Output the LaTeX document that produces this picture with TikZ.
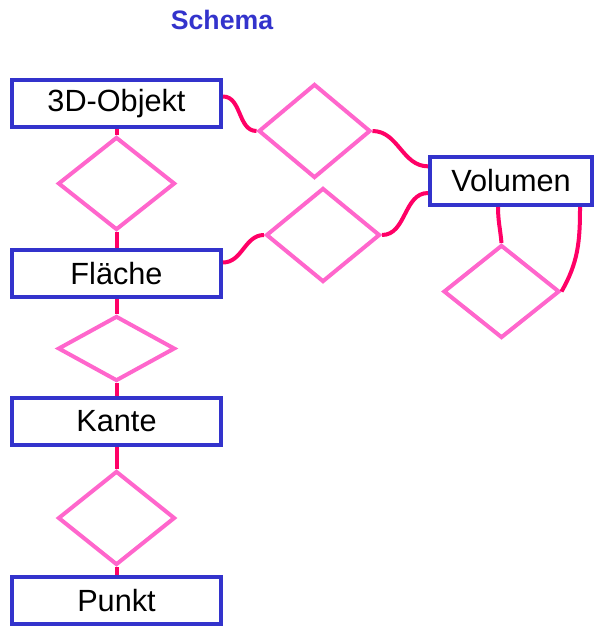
\documentclass[tikz,border=0pt]{standalone}
\usepackage{fontspec}
\setmainfont{Liberation Sans}
\usetikzlibrary{shapes.geometric}
\definecolor{boxblue}{HTML}{3333CC}
\definecolor{relpink}{HTML}{FF66CC}
\definecolor{linkred}{HTML}{FF0066}
\tikzset{
  entity/.style={draw=boxblue,line width=3pt,fill=white,minimum width=156.75pt,minimum height=35.25pt,inner sep=0pt,font=\fontsize{23}{27}\selectfont},
  relation/.style={diamond,draw=relpink,line width=3pt,inner sep=0pt,minimum width=87.75pt,minimum height=69.75pt},
  link/.style={draw=linkred,line width=3pt}
}
\begin{document}
\begin{tikzpicture}[x=0.75pt,y=0.75pt,yscale=-1,xscale=1]
\useasboundingbox (0,0) rectangle (594,627);

% Text Node
\node[font=\fontsize{20}{24}\bfseries,text=boxblue,inner sep=0pt] (title) at (222,20) {Schema};

%Shape: Rectangle
\node[entity] (objekt) at (116.5,103.5) {3D-Objekt};
\node[entity] (flaeche) at (116.5,273.5) {Fläche};
\node[entity] (kante) at (116.5,421.5) {Kante};
\node[entity] (punkt) at (116.5,600.5) {Punkt};
\node[entity,minimum width=121.5pt,minimum height=36pt] (volumen) at (511,181) {Volumen};

%Shape: Diamond
\node[relation] (r1) at (116.5,183.5) {};
\node[relation,minimum height=48.75pt] (r2) at (116.5,348.5) {};
\node[relation,minimum height=70.5pt] (r3) at (116.5,518) {};
\node[relation,minimum width=84pt,minimum height=70.5pt] (r4) at (314.5,131) {};
\node[relation,minimum width=85.5pt,minimum height=70.5pt] (r5) at (323,235) {};
\node[relation,minimum width=87pt] (r6) at (501.5,291.5) {};

%Straight Lines
\draw[link] (objekt.south) -- (r1.north);
\draw[link] (r1.south) -- (flaeche.north);
\draw[link] (flaeche.south) -- (r2.north);
\draw[link] (r2.south) -- (kante.north);
\draw[link] (kante.south) -- (r3.north);
\draw[link] (r3.south) -- (punkt.north);

%Curve Lines
\draw[link] ([yshift=-5.25pt]objekt.east) to[out=0,in=180] (r4.west);
\draw[link] (r4.east) to[out=0,in=180] ([yshift=-11pt]volumen.west);
\draw[link] ([yshift=-8.25pt]flaeche.east) to[out=0,in=180] (r5.west);
\draw[link] (r5.east) to[out=0,in=180] ([yshift=9pt]volumen.west);
\draw[link] ([xshift=-9.75pt]volumen.south) to[out=90,in=-95] (r6.north);
\draw[link] ([xshift=51.75pt]volumen.south) to[out=90,in=-60] (r6.east);
\end{tikzpicture}
\end{document}
